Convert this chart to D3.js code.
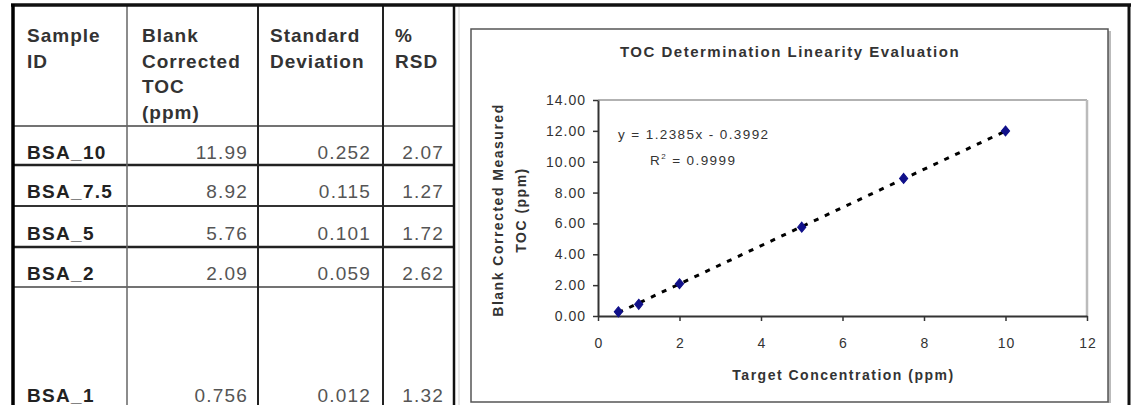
<!DOCTYPE html>
<html><head><meta charset="utf-8">
<script src="https://cdn.jsdelivr.net/npm/d3@7"></script>
<style>
body{margin:0;background:#fff;}
svg{display:block;font-family:"Liberation Sans",Arial,sans-serif;}
</style></head>
<body><svg id="c" width="1135" height="405"></svg>
<script>
// ---- data ----
const headers = [["Sample","ID"],["Blank","Corrected","TOC","(ppm)"],["Standard","Deviation"],["%","RSD"]];
const sampleIds = ["BSA_10","BSA_7.5","BSA_5","BSA_2","BSA_1"];
const tocVals = ["11.99","8.92","5.76","2.09","0.756"];
const sdVals = ["0.252","0.115","0.101","0.059","0.012"];
const rsdVals = ["2.07","1.27","1.72","2.62","1.32"];
const targetConc = [0.5, 1, 2, 5, 7.5, 10];
const measuredToc = [0.27, 0.756, 2.09, 5.76, 8.92, 11.99];
const fitSlope = 1.2385, fitIntercept = -0.3992;
const fitRange = [0.5, 10];
const yTicks = [0,2,4,6,8,10,12,14];
const xTicks = [0,2,4,6,8,10,12];
const chartTitle = "TOC Determination Linearity Evaluation";
const xTitle = "Target Concentration (ppm)";
const yTitle = ["Blank Corrected Measured","TOC (ppm)"];
const eqLine = "y = 1.2385x - 0.3992";
const r2Value = "0.9999";

const svg = d3.select("#c");

// ---- table ----
const colX = [13,127,258,383,454];
const rowY = [5,126,165,206,247,287,420];
const g = svg.append("g");
function ln(x1,y1,x2,y2,c,w){g.append("line").attr("x1",x1).attr("y1",y1).attr("x2",x2).attr("y2",y2).attr("stroke",c).attr("stroke-width",w);}
const rowStyles = [["#444",1.5],["#222",2.5],["#333",2],["#222",2.5],["#444",1.5]];
rowY.slice(1,6).forEach((y,i)=>ln(13,y,454,y,rowStyles[i][0],rowStyles[i][1]));
const colStyles = [["#666",1.5],["#222",2],["#222",2],["#111",2.5]];
colX.slice(1).forEach((x,i)=>ln(x,5,x,405,colStyles[i][0],colStyles[i][1]));
ln(459,5,459,405,"#d0d0d0",1);
ln(11,5,1131,5,"#111",3.5);
ln(13,4,13,405,"#000",3.5);
ln(1129,4,1129,405,"#111",3);

const padL = [14,15,12,12];
headers.forEach((lines,ci)=>{
  lines.forEach((t,li)=>{
    g.append("text").attr("x",colX[ci]+padL[ci]).attr("y",42+li*25.7)
     .attr("font-size",19).attr("font-weight","bold").attr("letter-spacing",1)
     .attr("fill","#333").text(t);
  });
});
const baselines = [159,198,240,280,402];
const padR = [11,13,11];
sampleIds.forEach((s,i)=>{
  g.append("text").attr("x",27).attr("y",baselines[i]).attr("font-size",19).attr("font-weight","bold")
   .attr("letter-spacing",1.3).attr("fill","#222").text(s);
  [tocVals,sdVals,rsdVals].forEach((arr,j)=>{
    g.append("text").attr("x",colX[j+2]-padR[j]+1).attr("y",baselines[i]).attr("text-anchor","end")
     .attr("font-size",19).attr("letter-spacing",1.2).attr("fill","#555").text(arr[i]);
  });
});

// ---- chart frame ----
svg.append("line").attr("x1",1109.5).attr("y1",31).attr("x2",1109.5).attr("y2",403).attr("stroke","#bbb").attr("stroke-width",3);
svg.append("rect").attr("x",471).attr("y",29).attr("width",637).attr("height",373)
  .attr("fill","#fff").attr("stroke","#555").attr("stroke-width",1.5);

const x = d3.scaleLinear().domain([0,12]).range([598,1087]);
const y = d3.scaleLinear().domain([0,14]).range([316,100]);

svg.append("line").attr("x1",x(0)).attr("y1",y(14)).attr("x2",x(12)).attr("y2",y(14)).attr("stroke","#999").attr("stroke-width",1.5);
svg.append("line").attr("x1",x(12)).attr("y1",y(14)).attr("x2",x(12)).attr("y2",y(0)).attr("stroke","#bbb").attr("stroke-width",2.5);

const yAxis = svg.append("g").attr("transform",`translate(${x(0)},0)`)
  .call(d3.axisLeft(y).tickValues(yTicks).tickFormat(d3.format(".2f")).tickSize(5).tickPadding(6).tickSizeOuter(0));
const xAxis = svg.append("g").attr("transform",`translate(0,${y(0)})`)
  .call(d3.axisBottom(x).tickValues(xTicks).tickFormat(d3.format("d")).tickSize(5).tickPadding(17).tickSizeOuter(0));
[yAxis,xAxis].forEach(a=>{
  a.select(".domain").attr("stroke","#333").attr("stroke-width",2);
  a.selectAll(".tick line").attr("stroke","#333").attr("stroke-width",1.5);
  a.selectAll(".tick text").attr("font-family","Liberation Sans, Arial, sans-serif").attr("font-size",14)
   .attr("letter-spacing",1).attr("fill","#333");
});
yAxis.selectAll(".tick text").attr("dx",-1);
xAxis.selectAll(".tick text").attr("dx",0.5);

// trend line
const fit = fitRange.map(v=>[v, fitSlope*v+fitIntercept]);
svg.append("path").datum(fit).attr("d",d3.line().x(d=>x(d[0])).y(d=>y(d[1])))
  .attr("stroke","#000").attr("stroke-width",3).attr("stroke-dasharray","5,7").attr("fill","none");

// points
svg.append("g").selectAll("path").data(targetConc.map((v,i)=>[v,measuredToc[i]])).join("path")
  .attr("transform",d=>`translate(${x(d[0])},${y(d[1])}) scale(1.2,0.85)`)
  .attr("d",d3.symbol().type(d3.symbolDiamond).size(40))
  .attr("fill","#10108a").attr("stroke","#10108a").attr("stroke-width",1);

// texts
svg.append("text").attr("x",790).attr("y",57).attr("text-anchor","middle").attr("font-size",15)
  .attr("font-weight","bold").attr("letter-spacing",1.5).attr("fill","#333").text(chartTitle);
svg.append("text").attr("x",x(6)+1).attr("y",380).attr("text-anchor","middle").attr("font-size",14)
  .attr("font-weight","bold").attr("letter-spacing",1.5).attr("fill","#333").text(xTitle);
yTitle.forEach((t,i)=>{
  svg.append("text").attr("transform",`translate(${503+i*23},${y(7)+2}) rotate(-90)`).attr("text-anchor","middle")
   .attr("font-size",14).attr("font-weight","bold").attr("letter-spacing",1.5).attr("fill","#333").text(t);
});
svg.append("text").attr("x",618).attr("y",139).attr("font-size",13.5).attr("letter-spacing",1.4).attr("fill","#333").text(eqLine);
const r2 = svg.append("text").attr("x",650).attr("y",165).attr("font-size",13.5).attr("letter-spacing",1.4).attr("fill","#333");
r2.append("tspan").text("R");
r2.append("tspan").attr("dy",-6).attr("font-size",8).text("2");
r2.append("tspan").attr("dy",6).text(" = " + r2Value);
</script></body></html>
